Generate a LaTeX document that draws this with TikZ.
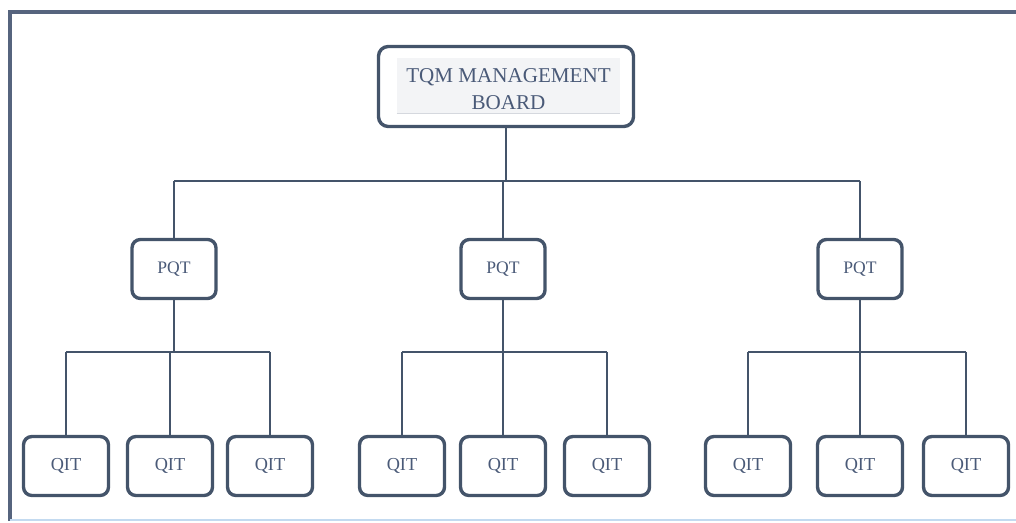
\documentclass[tikz,border=0pt]{standalone}
\usepackage{fontspec}
\setmainfont{Liberation Serif}
\usepackage{xcolor}
\usepackage{tikz}
\definecolor{tqmblue}{HTML}{44546A}
\definecolor{tqmtext}{HTML}{4A5A78}
\definecolor{tqmframe}{HTML}{56647E}
\definecolor{tqmgray}{HTML}{F3F4F6}
\definecolor{tqmrule}{HTML}{D5D8DE}
\definecolor{tqmsky}{HTML}{C3DAF0}
\tikzset{
  boardbox/.style={rectangle, rounded corners=7pt, draw=tqmblue, line width=2.4pt, fill=white, minimum width=6.375cm, minimum height=2.0cm},
  boardfill/.style={rectangle, fill=tqmgray, inner sep=0pt, minimum width=5.575cm, minimum height=1.375cm},
  boardtext/.style={align=center, text=tqmtext, inner sep=0pt, font=\fontsize{15}{19}\selectfont},
  pqtbox/.style={rectangle, rounded corners=6pt, draw=tqmblue, line width=2.4pt, fill=white, text=tqmtext, align=center, minimum width=2.1cm, minimum height=1.475cm, font=\fontsize{12.5}{15}\selectfont},
  qitbox/.style={pqtbox, minimum width=2.125cm, font=\fontsize{13}{16}\selectfont},
  orgline/.style={draw=tqmblue, line width=1.7pt},
  frameline/.style={draw=tqmframe, line width=2.2pt}
}

\begin{document}
\begin{tikzpicture}[x=0.025cm, y=-0.025cm]
\useasboundingbox (0,0) rectangle (1016,523);
% page frame
\draw[frameline] (10,521) -- (10,12) -- (1016,12);
\draw[draw=tqmsky, line width=1.2pt] (10,520) -- (1016,520);
% levels of the two buses
\coordinate (topbus) at (0,181);
\coordinate (lowbus) at (0,352);
% board
\node[boardbox] (board) at (506,86.5) {};
\node[boardfill] (boardbg) at (508.5,85.5) {};
\draw[draw=tqmrule, line width=1pt] (boardbg.south west) -- (boardbg.south east);
\node[boardtext, yshift=-2.5pt] (boardtitle) at (boardbg.center) {TQM MANAGEMENT\\BOARD};
% PQT level
\node[pqtbox] (pqtA) at (174,269) {PQT};
\node[pqtbox] (pqtB) at (503,269) {PQT};
\node[pqtbox] (pqtC) at (860,269) {PQT};
% QIT level
\node[qitbox] (qitA1) at (66,466) {QIT};
\node[qitbox] (qitA2) at (170,466) {QIT};
\node[qitbox] (qitA3) at (270,466) {QIT};
\node[qitbox] (qitB1) at (402,466) {QIT};
\node[qitbox] (qitB2) at (503,466) {QIT};
\node[qitbox] (qitB3) at (607,466) {QIT};
\node[qitbox] (qitC1) at (748,466) {QIT};
\node[qitbox] (qitC2) at (860,466) {QIT};
\node[qitbox] (qitC3) at (966,466) {QIT};
% board to PQT
\draw[orgline] (board.south) -- (board.south |- topbus);
\draw[orgline] (pqtA.north |- topbus) -- (pqtC.north |- topbus);
\draw[orgline] (pqtA.north |- topbus) -- (pqtA.north);
\draw[orgline] (pqtB.north |- topbus) -- (pqtB.north);
\draw[orgline] (pqtC.north |- topbus) -- (pqtC.north);
% PQT to QIT
\draw[orgline] (pqtA.south) -- (pqtA.south |- lowbus);
\draw[orgline] (qitA1.north |- lowbus) -- (qitA3.north |- lowbus);
\draw[orgline] (qitA1.north |- lowbus) -- (qitA1.north);
\draw[orgline] (qitA2.north |- lowbus) -- (qitA2.north);
\draw[orgline] (qitA3.north |- lowbus) -- (qitA3.north);
\draw[orgline] (pqtB.south) -- (pqtB.south |- lowbus);
\draw[orgline] (qitB1.north |- lowbus) -- (qitB3.north |- lowbus);
\draw[orgline] (qitB1.north |- lowbus) -- (qitB1.north);
\draw[orgline] (qitB2.north |- lowbus) -- (qitB2.north);
\draw[orgline] (qitB3.north |- lowbus) -- (qitB3.north);
\draw[orgline] (pqtC.south) -- (pqtC.south |- lowbus);
\draw[orgline] (qitC1.north |- lowbus) -- (qitC3.north |- lowbus);
\draw[orgline] (qitC1.north |- lowbus) -- (qitC1.north);
\draw[orgline] (qitC2.north |- lowbus) -- (qitC2.north);
\draw[orgline] (qitC3.north |- lowbus) -- (qitC3.north);
\end{tikzpicture}
\end{document}
